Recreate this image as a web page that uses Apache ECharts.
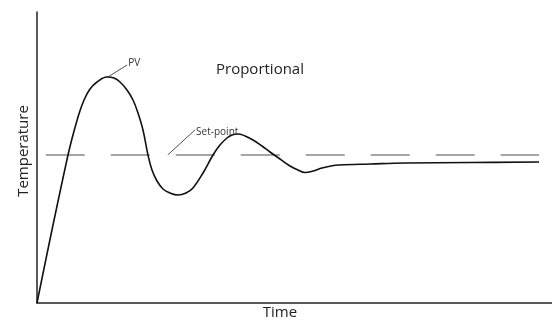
<!DOCTYPE html>
<html>
<head>
<meta charset="utf-8">
<script src="https://cdn.jsdelivr.net/npm/echarts@6/dist/echarts.min.js"></script>
<style>html,body{margin:0;padding:0;background:#fff}#c{width:552px;height:320px}</style>
</head>
<body>
<div id="c"></div>
<script>
// Process value (PV) response: [time, temperature]
var pvTime = [0, 6.02, 7.96, 9.13, 10.29, 11.65, 13.59, 14.95, 16.12, 17.48, 18.64, 19.61, 20.58, 21.55, 22.33, 23.30, 24.47, 25.83, 27.38, 28.93, 30.29, 32.23, 34.17, 35.53, 36.89, 37.86, 39.03, 40.39, 41.94, 43.69, 45.24, 47.18, 49.13, 50.68, 52.04, 53.59, 55.34, 57.09, 58.64, 64.66, 71.46, 84.08, 97.48];
var pvTemp = [0, 50.86, 63.92, 69.76, 73.54, 75.95, 77.66, 77.32, 75.95, 73.20, 69.76, 65.29, 59.45, 50.86, 45.70, 41.92, 39.18, 37.80, 37.11, 37.80, 39.52, 44.67, 50.86, 54.30, 56.70, 57.73, 58.08, 57.39, 56.01, 53.95, 51.89, 49.48, 47.08, 45.70, 44.85, 45.36, 46.39, 47.08, 47.42, 47.77, 48.11, 48.28, 48.45];
// Set-point line
var spTime = [1.7, 97.5];
var spTemp = [50.9, 50.9];
// Annotation leaders
var pvLeader = [[13.8, 77.7], [17.5, 81.8]];
var spLeader = [[25.4, 50.9], [30.7, 59.5]];

var font = '"Open Sans", "Noto Sans", sans-serif';
var chart = echarts.init(document.getElementById('c'));
chart.setOption({
  animation: false,
  grid: {left: 37, right: 0, top: 12, bottom: 17, outerBoundsMode: 'none', containLabel: false},
  title: {text: 'Proportional', left: 211, top: 57, textStyle: {fontFamily: font, fontSize: 15, fontWeight: 'normal', color: '#222'}},
  xAxis: {
    type: 'value', min: 0, max: 100,
    name: 'Time', nameLocation: 'middle', nameGap: 2,
    nameTextStyle: {fontFamily: font, fontSize: 15, color: '#222', padding: [0, 29, 0, 0]},
    axisLine: {show: true, lineStyle: {color: '#222', width: 1.5}},
    axisTick: {show: false}, axisLabel: {show: false}, splitLine: {show: false}
  },
  yAxis: {
    type: 'value', min: 0, max: 100,
    name: 'Temperature', nameLocation: 'middle', nameGap: 6,
    nameTextStyle: {fontFamily: font, fontSize: 15, color: '#222', padding: [0, 0, 0, 13]},
    axisLine: {show: true, lineStyle: {color: '#222', width: 1.5}},
    axisTick: {show: false}, axisLabel: {show: false}, splitLine: {show: false}
  },
  series: [
    {
      type: 'line', showSymbol: false, silent: true,
      data: spTime.map(function (t, i) { return [t, spTemp[i]]; }),
      lineStyle: {color: '#888', width: 1.5, type: [39, 26]}
    },
    {
      type: 'line', showSymbol: false, silent: true, smooth: 0.4,
      data: pvTime.map(function (t, i) { return [t, pvTemp[i]]; }),
      lineStyle: {color: '#111', width: 1.6}
    },
    {
      type: 'line', silent: true, showSymbol: false,
      data: pvLeader,
      lineStyle: {color: '#222', width: 0.8},
      endLabel: {show: true, formatter: 'PV', distance: 1, offset: [0, -2], fontFamily: font, fontSize: 10, color: '#333'}
    },
    {
      type: 'line', silent: true, showSymbol: false,
      data: spLeader,
      lineStyle: {color: '#222', width: 0.8},
      endLabel: {show: true, formatter: 'Set-point', distance: 1, offset: [0, 2], fontFamily: font, fontSize: 10, color: '#333'}
    }
  ]
});
</script>
</body>
</html>
